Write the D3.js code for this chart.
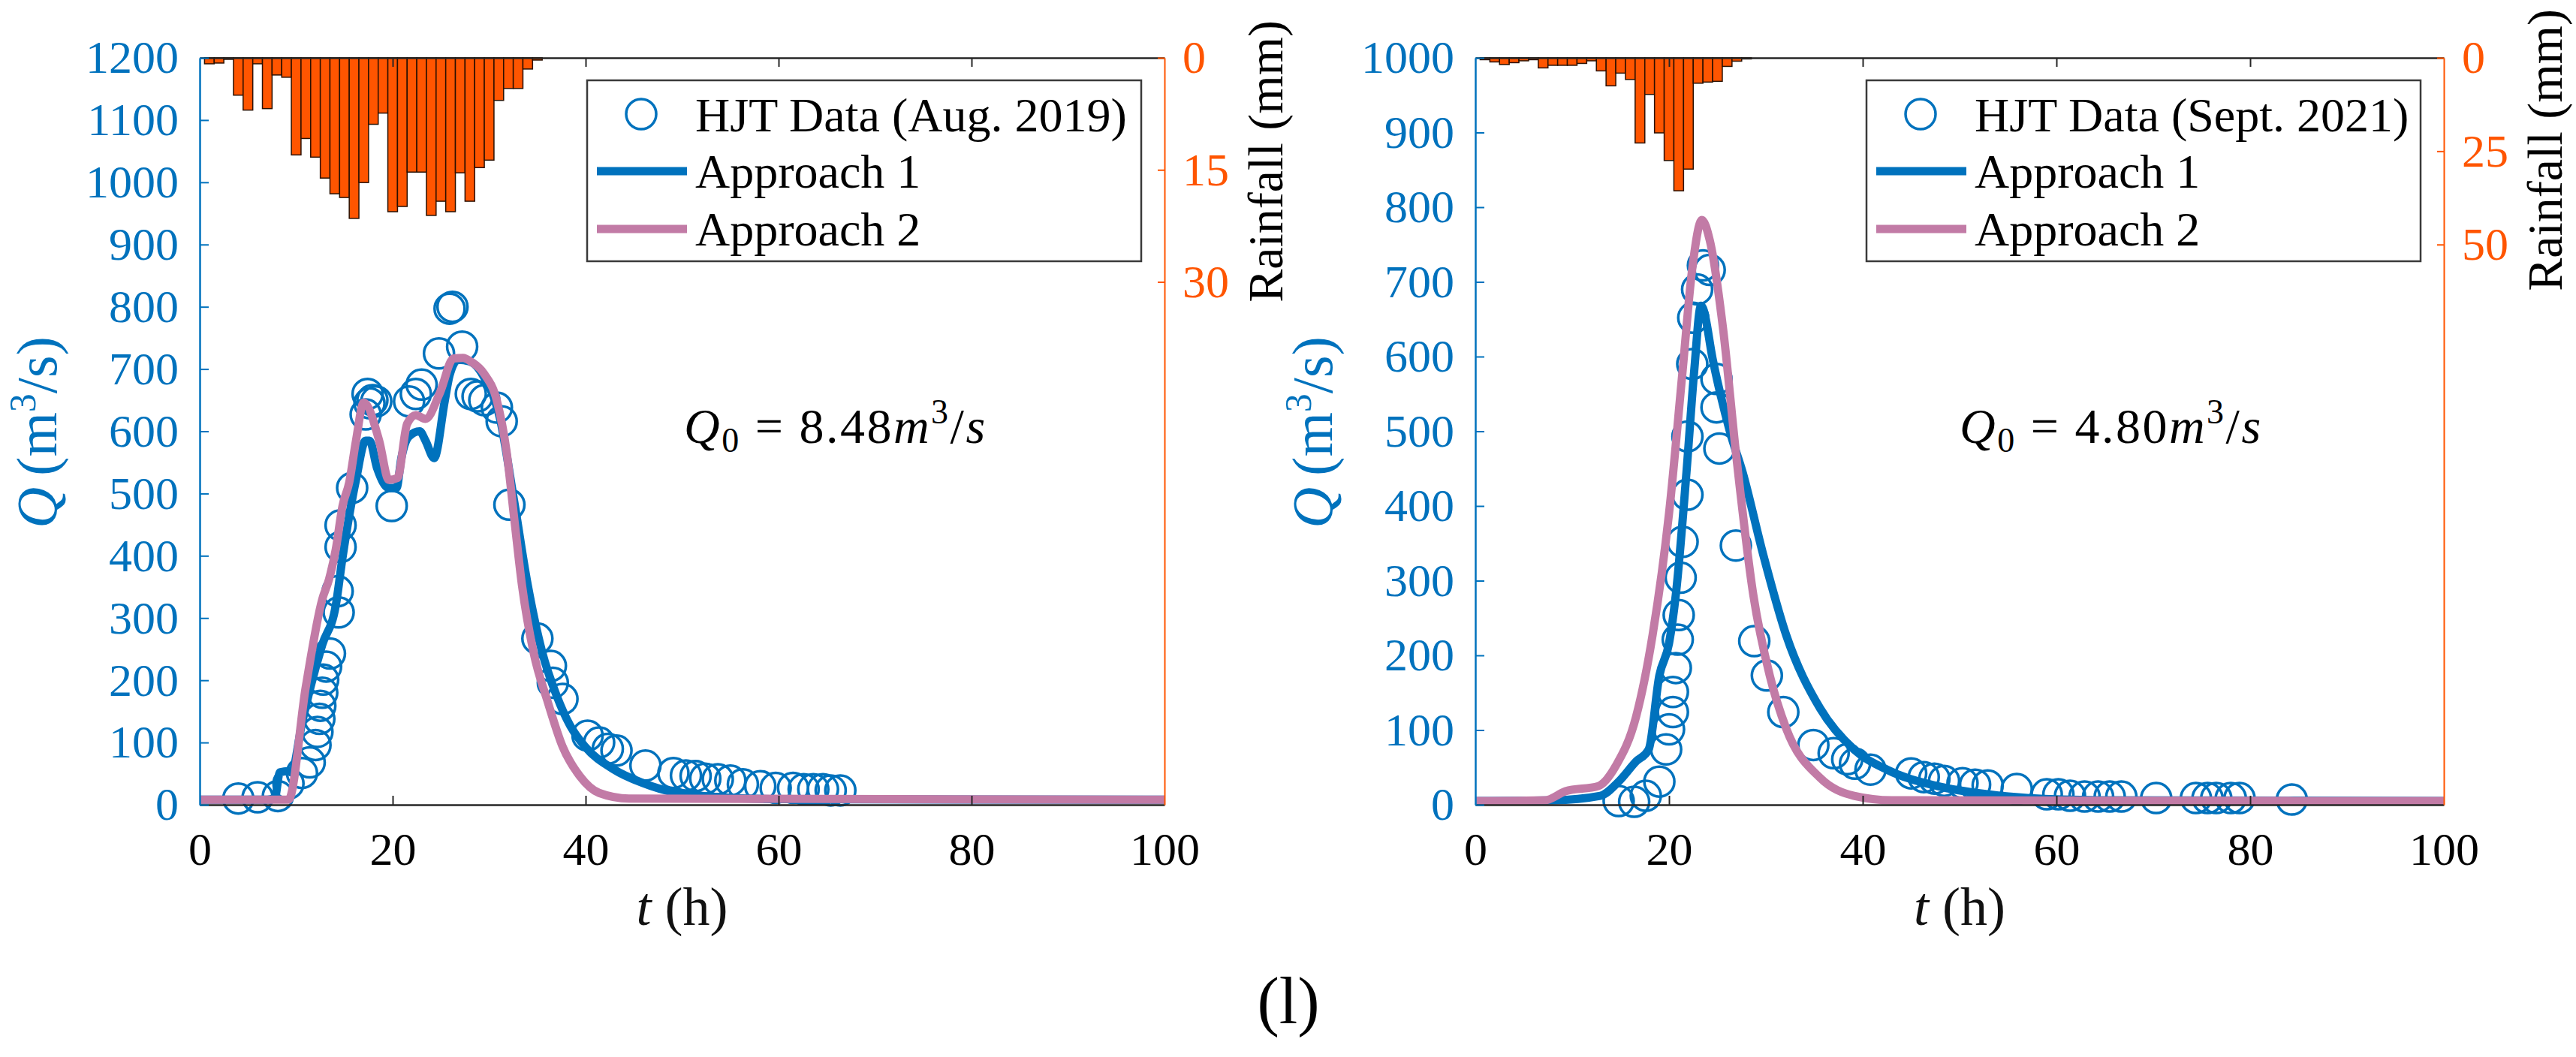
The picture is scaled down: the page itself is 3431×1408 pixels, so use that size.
<!DOCTYPE html>
<html>
<head>
<meta charset="utf-8">
<script src="https://cdn.jsdelivr.net/npm/d3@7"></script>
<style type="text/css">
  body{
    margin: 0px;
    background: white;
  }
  svg text{
    font-family: 'Liberation Serif', 'Times New Roman', serif;
  }
</style>
</head>
<body>

<svg id="chart" width="3431" height="1408"></svg>

<script>

// ---------- data: Aug. 2019 event (left panel) ----------
// hourly rainfall (mm), bar i is centred on hour i+1
var rainAug = [0.8,0.7,0.2,5.0,7.0,0.8,6.8,2.3,2.6,13.0,10.8,13.3,16.1,18.2,18.7,21.5,16.7,8.9,7.4,
               20.6,19.9,15.3,15.3,21.1,19.2,20.6,15.4,19.2,14.7,13.7,5.7,4.1,4.1,1.5,0.3];

// measured discharge [t (h), Q (m3/s)]
var obsAug = [[4.0,10],[6.0,12],[8.1,14],[9.2,34],[10.6,51],[11.4,68],[12.0,96],[12.2,117],[12.4,138],
              [12.5,159],[12.7,180],[12.8,201],[13.1,222],[13.5,243],[14.4,309],[14.3,343],[14.6,414],
              [14.6,449],[15.8,509],[17.2,627],[17.4,660],[17.6,645],[17.9,650],[18.3,648],[19.9,480],
              [21.7,648],[22.4,660],[23.0,675],[24.8,725],[25.9,797],[26.2,800],[27.2,736],[28.1,660],
              [28.8,656],[29.5,650],[30.8,638],[31.3,616],[32.1,482],[35.0,267],[36.4,223],[36.6,196],
              [37.6,170],[40.2,111],[41.4,100],[42.3,90],[43.2,87],[46.2,63],[49.1,51],[50.4,47],
              [51.4,46],[52.4,42],[53.7,41],[55.0,39],[56.3,33],[58.1,30],[59.7,27],[61.5,27],
              [62.6,25],[63.6,25],[64.6,25],[65.4,23],[66.4,23]];

// Approach 1 simulation
var app1Aug = [[0,8],[7.0,8],[7.8,12],[8.3,52],[9.2,54],[9.5,52],[10.6,131],[11.5,190],[12.7,257],
               [14.1,320],[14.8,397],[16.2,522],[17.2,585],[17.6,585],[18.4,540],[19.6,509],[20.4,509],
               [20.9,557],[21.7,592],[22.8,600],[23.4,585],[24.3,557],[25.4,649],[25.9,690],[26.8,715],
               [28.0,712],[29.5,686],[31.1,622],[32.6,487],[34.0,353],[35.5,245],[37.0,175],[38.4,127],
               [39.9,94],[42.9,57],[45.9,35],[49.4,19],[54.0,12],[60.0,9],[100,8]];

// Approach 2 simulation
var app2Aug = [[0,8],[9.2,8],[11.0,190],[12.7,330],[13.4,362],[14.1,410],[14.8,480],[15.5,518],
               [16.2,585],[17.0,646],[18.6,585],[19.6,522],[20.5,525],[21.5,612],[22.4,626],[23.4,620],
               [24.9,662],[26.3,717],[27.3,718],[28.1,712],[29.5,692],[30.8,649],[31.8,568],[32.6,460],
               [33.4,353],[34.6,245],[36.1,164],[37.6,94],[39.4,46],[41.4,19],[44.5,10],[100,8]];

var qTicksAug = [0,100,200,300,400,500,600,700,800,900,1000,1100,1200];
var rainTicksAug = [0,15,30];

// ---------- data: Sept. 2021 event (right panel) ----------
var rainSep = [0.5,1.1,1.8,1.3,0.8,0.5,2.7,2.0,2.0,2.0,1.5,0.8,3.5,7.5,4.1,5.8,22.8,9.8,20.1,27.5,
               35.6,29.8,6.8,6.5,6.3,2.3,0.9,0.3];

var obsSep = [[14.8,5],[16.4,4],[17.6,12],[19.0,31],[19.7,74],[20.0,101],[20.4,124],[20.4,151],
              [20.7,183],[20.9,221],[21.0,254],[21.2,304],[21.4,352],[21.9,415],[21.9,493],[22.4,590],
              [22.5,652],[22.9,690],[23.5,722],[24.2,716],[24.9,570],[24.9,532],[25.2,477],[26.9,347],
              [28.8,219],[30.1,173],[31.8,124],[34.9,80],[37.0,69],[38.4,61],[39.2,55],[40.8,47],
              [45.0,42],[46.3,37],[47.4,35],[48.4,32],[50.3,29],[51.6,27],[52.9,26],[55.9,21],
              [59.0,14],[60.2,14],[61.4,12],[62.9,11],[64.3,11],[65.5,11],[66.7,11],[70.3,9],
              [74.4,9],[75.6,9],[76.5,9],[78.0,9],[78.9,9],[84.3,7]];

var app1Sep = [[0,5],[8.0,6],[12.9,12],[14.8,31],[16.6,58],[17.9,74],[19.0,173],[20.0,216],[20.7,281],
               [21.8,445],[22.6,581],[23.3,668],[23.5,665],[24.5,597],[26.3,499],[27.6,445],[29.7,336],
               [32.1,227],[35.6,129],[39.1,74],[42.5,47],[47.7,25],[52.9,14],[57.0,9],[65.0,6],[100,5]];

var app2Sep = [[0,5],[7.2,6],[9.3,18],[12.7,25],[14.5,52],[16.6,118],[18.3,227],[20.0,390],[21.4,581],
               [22.4,718],[23.4,783],[24.2,756],[25.6,635],[26.9,472],[28.7,281],[30.4,173],[32.1,102],
               [35.6,36],[39.1,12],[43.0,6],[100,5]];

var qTicksSep = [0,100,200,300,400,500,600,700,800,900,1000];
var rainTicksSep = [0,25,50];

var tTicks = [0,20,40,60,80,100];

// ---------- drawing ----------
var svg = d3.select('#chart');

var plotTop = 77, plotBottom = 1072;
var blue = '#0072BD', pink = '#C27BA6', orange = '#FF5500', axisGray = '#262626';
var serif = "'Liberation Serif', 'Times New Roman', serif";
var fmt = d3.format('d');

function styleAxis(sel, color, textColor) {
  sel.attr('font-family', serif);
  sel.select('.domain').attr('stroke', color).attr('stroke-width', 2.5);
  sel.selectAll('.tick line').attr('stroke', color).attr('stroke-width', 2);
  sel.selectAll('text')
    .attr('font-size', 62)
    .attr('fill', textColor)
    .style('font-family', serif);
}

function drawPanel(p) {

  var g = svg.append('g');

  var x = d3.scaleLinear().domain([0, 100]).range([p.x0, p.x1]);
  var yQ = d3.scaleLinear().domain([0, p.qMax]).range([plotBottom, plotTop]);
  var yR = d3.scaleLinear().domain([0, p.rainMax]).range([plotTop, plotBottom]);

  // rainfall bars hanging from the top
  g.selectAll('.bar')
    .data(p.rain)
    .enter()
    .append('rect')
    .attr('class', 'bar')
    .attr('x', function(d,i) { return x(i + 0.5); })
    .attr('width', x(1) - x(0))
    .attr('y', yR(0))
    .attr('height', function(d) { return yR(d) - yR(0); })
    .attr('fill', orange)
    .attr('stroke', '#2a1000')
    .attr('stroke-width', 1.5);

  // top box line
  var topAxis = g.append('g')
    .attr('transform', 'translate(0,' + plotTop + ')')
    .call(d3.axisTop(x).tickValues([20,40,60,80]).tickSize(-12).tickSizeOuter(0).tickFormat(''));
  styleAxis(topAxis, axisGray, '#000');

  // observations
  g.selectAll('.obs')
    .data(p.obs)
    .enter()
    .append('circle')
    .attr('class', 'obs')
    .attr('cx', function(d) { return x(d[0]); })
    .attr('cy', function(d) { return yQ(d[1]); })
    .attr('r', 20)
    .attr('fill', 'none')
    .attr('stroke', blue)
    .attr('stroke-width', 3.5);

  var line = d3.line()
    .curve(d3.curveMonotoneX)
    .x(function(d) { return x(d[0]); })
    .y(function(d) { return yQ(d[1]); });

  g.append('path')
    .datum(p.app1)
    .attr('d', line)
    .attr('fill', 'none')
    .attr('stroke', blue)
    .attr('stroke-width', 11)
    .attr('stroke-linejoin', 'round');

  g.append('path')
    .datum(p.app2)
    .attr('d', line)
    .attr('fill', 'none')
    .attr('stroke', pink)
    .attr('stroke-width', 11)
    .attr('stroke-linejoin', 'round');

  // bottom axis
  var bottomAxis = g.append('g')
    .attr('transform', 'translate(0,' + plotBottom + ')')
    .call(d3.axisBottom(x).tickValues(tTicks).tickFormat(fmt)
      .tickSize(-12).tickSizeOuter(0).tickPadding(36));
  styleAxis(bottomAxis, axisGray, '#000');
  bottomAxis.selectAll('.tick line')
    .attr('display', function(d) { return (d == 0 || d == 100) ? 'none' : null; });

  // left axis (discharge)
  var leftAxis = g.append('g')
    .attr('transform', 'translate(' + p.x0 + ',0)')
    .call(d3.axisLeft(yQ).tickValues(p.qTicks).tickFormat(fmt)
      .tickSize(-12).tickSizeOuter(0).tickPadding(28));
  styleAxis(leftAxis, blue, blue);

  // right axis (rainfall)
  var rightAxis = g.append('g')
    .attr('transform', 'translate(' + p.x1 + ',0)')
    .call(d3.axisRight(yR).tickValues(p.rainTicks).tickFormat(fmt)
      .tickSize(-9).tickSizeOuter(0).tickPadding(24));
  styleAxis(rightAxis, orange, orange);
  rightAxis.select('.domain').attr('stroke-width', 2);

  // Q axis label
  var ql = g.append('text')
    .attr('transform', 'translate(' + (p.x0 - 191) + ',576) rotate(-90)')
    .attr('text-anchor', 'middle')
    .attr('font-size', 76)
    .attr('fill', blue);
  ql.append('tspan').attr('font-style', 'italic').text('Q');
  ql.append('tspan').text('\u2009(m');
  ql.append('tspan').attr('font-size', 50).attr('dy', -28).text('3');
  ql.append('tspan').attr('dy', 28).text('/s)');

  // rainfall label
  g.append('text')
    .attr('transform', 'translate(' + (p.x1 + 157) + ',' + p.rainLabelY + ') rotate(-90)')
    .attr('text-anchor', 'middle')
    .attr('font-size', 66)
    .attr('fill', '#000')
    .text('Rainfall (mm)');

  // time label
  var tl = g.append('text')
    .attr('x', (p.x0 + p.x1) / 2)
    .attr('y', 1232)
    .attr('text-anchor', 'middle')
    .attr('font-size', 72)
    .attr('fill', '#111');
  tl.append('tspan').attr('font-style', 'italic').text('t');
  tl.append('tspan').text(' (h)');

  // Q0 annotation
  var qt = g.append('text')
    .attr('x', p.x0 + 645)
    .attr('y', 590)
    .attr('font-size', 66)
    .attr('letter-spacing', 2.5)
    .attr('fill', '#000');
  qt.append('tspan').attr('font-style', 'italic').text('Q');
  qt.append('tspan').attr('font-size', 46).attr('dy', 12).text('0');
  qt.append('tspan').attr('dy', -12).text(' = ' + p.q0);
  qt.append('tspan').attr('font-style', 'italic').text('m');
  qt.append('tspan').attr('font-size', 46).attr('dy', -26).text('3');
  qt.append('tspan').attr('dy', 26).text('/');
  qt.append('tspan').attr('font-style', 'italic').text('s');

  // legend
  var lx = p.x1 - 31 - 738;
  var lg = g.append('g');
  lg.append('rect')
    .attr('x', lx).attr('y', 107)
    .attr('width', 738).attr('height', 241)
    .attr('fill', 'white')
    .attr('stroke', '#3a3a3a')
    .attr('stroke-width', 2.5);

  lg.append('circle')
    .attr('cx', lx + 72).attr('cy', 152).attr('r', 20)
    .attr('fill', 'none').attr('stroke', blue).attr('stroke-width', 3.5);
  lg.append('line')
    .attr('x1', lx + 13).attr('x2', lx + 133)
    .attr('y1', 228).attr('y2', 228)
    .attr('stroke', blue).attr('stroke-width', 11);
  lg.append('line')
    .attr('x1', lx + 13).attr('x2', lx + 133)
    .attr('y1', 305).attr('y2', 305)
    .attr('stroke', pink).attr('stroke-width', 11);

  var labels = [p.legendName, 'Approach 1', 'Approach 2'];
  var baselines = [175, 250, 327];
  lg.selectAll('.legText')
    .data(labels)
    .enter()
    .append('text')
    .attr('class', 'legText')
    .attr('x', lx + 144)
    .attr('y', function(d,i) { return baselines[i]; })
    .attr('font-size', 64)
    .attr('fill', '#000')
    .text(function(d) { return d; });
}

drawPanel({
  x0: 266, x1: 1551,
  qMax: 1200, qTicks: qTicksAug,
  rainMax: 100, rainTicks: rainTicksAug,
  rain: rainAug, obs: obsAug, app1: app1Aug, app2: app2Aug,
  legendName: 'HJT Data (Aug. 2019)',
  q0: '8.48',
  rainLabelY: 215
});

drawPanel({
  x0: 1965, x1: 3255,
  qMax: 1000, qTicks: qTicksSep,
  rainMax: 200, rainTicks: rainTicksSep,
  rain: rainSep, obs: obsSep, app1: app1Sep, app2: app2Sep,
  legendName: 'HJT Data (Sept. 2021)',
  q0: '4.80',
  rainLabelY: 200
});

// panel tag
svg.append('text')
  .attr('x', 1716)
  .attr('y', 1363)
  .attr('text-anchor', 'middle')
  .attr('font-size', 88)
  .attr('fill', '#000')
  .text('(l)');

</script>

</body>
</html>
